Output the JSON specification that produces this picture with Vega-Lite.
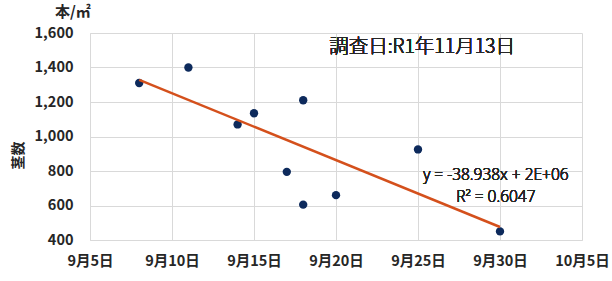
{
  "$schema": "https://vega.github.io/schema/vega-lite/v6.json",
  "width": 492,
  "height": 207,
  "autosize": "none",
  "padding": {"left": 90, "top": 33, "right": 30, "bottom": 41},
  "background": "white",
  "config": {
    "view": {"stroke": null},
    "font": "Noto Sans CJK JP"
  },
  "title": {
    "text": "本/㎡",
    "anchor": "start",
    "frame": "group",
    "dx": -35,
    "offset": 5,
    "fontSize": 15,
    "fontWeight": "bold",
    "color": "#262626",
    "font": "Noto Sans CJK JP"
  },
  "data": {
    "values": [
      {"d": "2019/09/08", "n": 1310},
      {"d": "2019/09/11", "n": 1400},
      {"d": "2019/09/14", "n": 1070},
      {"d": "2019/09/15", "n": 1135},
      {"d": "2019/09/18", "n": 1210},
      {"d": "2019/09/17", "n": 795},
      {"d": "2019/09/18", "n": 605},
      {"d": "2019/09/20", "n": 660},
      {"d": "2019/09/25", "n": 925},
      {"d": "2019/09/30", "n": 450}
    ],
    "format": {"parse": {"d": "date"}}
  },
  "layer": [
    {
      "mark": {"type": "point", "filled": true, "size": 70, "color": "#0d2a5c", "opacity": 1},
      "encoding": {
        "x": {
          "field": "d",
          "type": "temporal",
          "scale": {"domain": [{"year": 2019, "month": 9, "date": 5}, {"year": 2019, "month": 10, "date": 5}]},
          "axis": {
            "title": null,
            "tickCount": 20,
            "values": [
              {"year": 2019, "month": 9, "date": 5},
              {"year": 2019, "month": 9, "date": 10},
              {"year": 2019, "month": 9, "date": 15},
              {"year": 2019, "month": 9, "date": 20},
              {"year": 2019, "month": 9, "date": 25},
              {"year": 2019, "month": 9, "date": 30},
              {"year": 2019, "month": 10, "date": 5}
            ],
            "labelExpr": "(month(datum.value)+1) + '月' + date(datum.value) + '日'",
            "labelFontSize": 14.5,
            "labelFontWeight": "bold",
            "labelColor": "#262626",
            "labelPadding": 14,
            "labelFlush": false,
            "labelOverlap": false,
            "ticks": false,
            "domain": true,
            "domainColor": "#d9d9d9",
            "grid": true,
            "gridColor": "#d9d9d9"
          }
        },
        "y": {
          "field": "n",
          "type": "quantitative",
          "scale": {"domain": [400, 1600], "nice": false},
          "axis": {
            "title": "茎数",
            "titleFontSize": 14,
            "titleFontWeight": "bold",
            "titleColor": "#262626",
            "titleX": -72,
            "titleY": 122,
            "titleAngle": -90,
            "titleAlign": "center",
            "titleBaseline": "middle",
            "tickCount": 20,
            "values": [400, 600, 800, 1000, 1200, 1400, 1600],
            "format": ",d",
            "labelFontSize": 14.5,
            "labelFontWeight": "bold",
            "labelColor": "#262626",
            "labelPadding": 17,
            "labelOverlap": false,
            "labelFlush": false,
            "ticks": false,
            "domain": true,
            "domainColor": "#d9d9d9",
            "grid": true,
            "gridColor": "#d9d9d9"
          }
        }
      }
    },
    {
      "transform": [{"regression": "n", "on": "d"}],
      "mark": {"type": "line", "color": "#d4501c", "strokeWidth": 2.5},
      "encoding": {
        "x": {"field": "d", "type": "temporal"},
        "y": {"field": "n", "type": "quantitative"}
      }
    },
    {
      "mark": {"type": "text", "fontSize": 19.5, "fontWeight": 300, "fill": "#262626", "align": "center", "baseline": "middle"},
      "encoding": {
        "x": {"datum": {"year": 2019, "month": 9, "date": 25, "hours": 6}, "type": "temporal"},
        "y": {"datum": 1519, "type": "quantitative"},
        "text": {"value": "調査日:R1年11月13日"}
      }
    },
    {
      "mark": {"type": "text", "font": "Open Sans", "fontSize": 15.5, "fontWeight": 300, "fill": "#262626", "align": "center", "baseline": "middle"},
      "encoding": {
        "x": {"datum": {"year": 2019, "month": 9, "date": 29, "hours": 18}, "type": "temporal"},
        "y": {"datum": 774, "type": "quantitative"},
        "text": {"value": "y = -38.938x + 2E+06"}
      }
    },
    {
      "mark": {"type": "text", "font": "Open Sans", "fontSize": 15.5, "fontWeight": 300, "fill": "#262626", "align": "center", "baseline": "middle"},
      "encoding": {
        "x": {"datum": {"year": 2019, "month": 9, "date": 29, "hours": 18}, "type": "temporal"},
        "y": {"datum": 650, "type": "quantitative"},
        "text": {"value": "R² = 0.6047"}
      }
    }
  ]
}
